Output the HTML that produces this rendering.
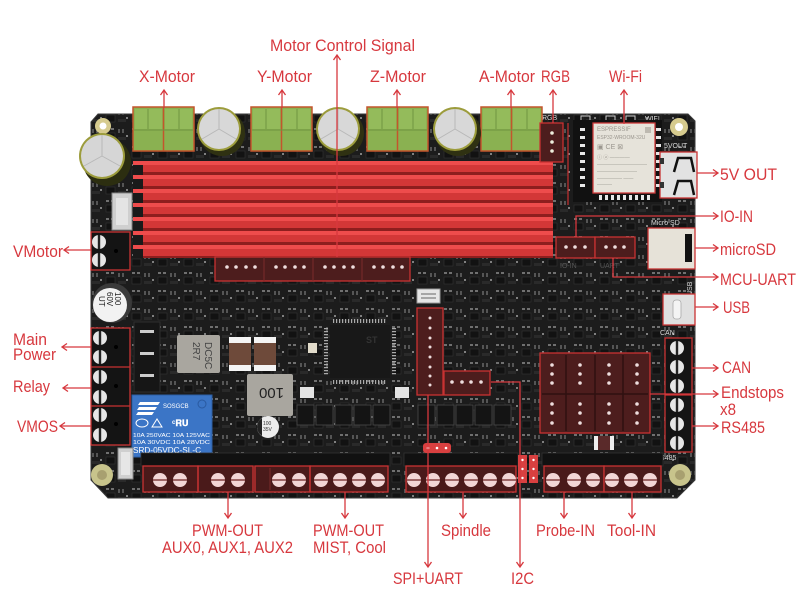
<!DOCTYPE html>
<html><head><meta charset="utf-8">
<style>
html,body{margin:0;padding:0;background:#fff;}
svg{display:block;}
text{font-family:"Liberation Sans",sans-serif;}
.lb{fill:#d7383e;font-size:17px;}
.ln{stroke:#d7383e;stroke-width:1.3;fill:none;}
.ss{fill:#d8d8d8;font-size:7px;}
</style></head><body>
<svg width="806" height="605" viewBox="0 0 806 605" xmlns="http://www.w3.org/2000/svg">
<defs>
<pattern id="smd" x="0" y="0" width="26" height="18" patternUnits="userSpaceOnUse">
<rect width="26" height="18" fill="#1c1c1c"/>
<rect x="2" y="2" width="3" height="2" fill="#707070"/>
<rect x="7" y="2" width="3" height="2" fill="#707070"/>
<rect x="2" y="7" width="9" height="7" fill="#121212" stroke="#333" stroke-width="0.6"/>
<rect x="14" y="3" width="2" height="4" fill="#555"/>
<rect x="18" y="3" width="2" height="4" fill="#555"/>
<rect x="14" y="11" width="8" height="3" fill="#2a2a2a"/>
<rect x="22" y="9" width="2" height="2" fill="#808080"/>
</pattern>
<g id="capT">
<circle cx="3" cy="4" r="23" fill="#2f3112"/>
<circle cx="0" cy="0" r="22" fill="#9c9c3c"/>
<circle cx="0" cy="0" r="20" fill="#d8d8d8"/>
<path d="M0 0 L0 -20 M0 0 L-17 10 M0 0 L17 10" stroke="#b8b8b8" stroke-width="1"/>
</g>
<g id="green">
<rect x="0" y="0" width="61" height="44" fill="#8ab151" stroke="#c4552c" stroke-width="1.5"/>
<rect x="2" y="2" width="27" height="20" fill="#94bb5b"/>
<rect x="32" y="2" width="27" height="20" fill="#94bb5b"/>
<line x1="30.5" y1="0" x2="30.5" y2="44" stroke="#c4552c" stroke-width="1.5"/>
<line x1="15" y1="2" x2="15" y2="22" stroke="#6f9440" stroke-width="1"/>
<line x1="46" y1="2" x2="46" y2="22" stroke="#6f9440" stroke-width="1"/>
<line x1="1" y1="23" x2="60" y2="23" stroke="#6f9440" stroke-width="1"/>
</g>
<g id="scrV">
<circle r="7" fill="#e6e6e6"/>
<rect x="-1.2" y="-7" width="2.4" height="14" fill="#222"/>
</g>
<g id="scrH">
<circle r="7" fill="#f2d6d6"/>
<rect x="-7" y="-0.8" width="14" height="1.6" fill="#8a4a4a"/>
</g>
</defs>
<rect width="806" height="605" fill="#fff"/>

<!-- board -->
<polygon points="91,122 98,114 688,114 695,121 695,480 677,498 108,498 91,480" fill="url(#smd)" stroke="#3a3a3a" stroke-width="1"/>

<!-- holes -->
<circle cx="103" cy="126" r="8" fill="#d6cb8e"/><circle cx="103" cy="126" r="3.5" fill="#fff"/>
<circle cx="679" cy="127" r="9" fill="#d6cb8e"/><circle cx="679" cy="127" r="4" fill="#fff"/>
<circle cx="102" cy="475" r="11" fill="#c8c48c"/><circle cx="102" cy="475" r="5" fill="#a8a070"/>
<circle cx="680" cy="475" r="11" fill="#c8c48c"/><circle cx="680" cy="475" r="5" fill="#a8a070"/>

<!-- top silkscreen -->
<text x="542" y="120" class="ss" font-size="7">RGB</text>
<text x="645" y="121" class="ss">WIFI</text>
<text x="664" y="148" class="ss" font-size="8">5VOUT</text>
<text x="651" y="225" class="ss" font-size="8">Micro SD</text>
<text x="660" y="335" class="ss" font-size="8">CAN</text>
<text x="655" y="460" class="ss" font-size="7">RS485</text>
<text x="0" y="0" class="ss" transform="translate(692,296) rotate(-90)">USB</text>
<rect x="581" y="116" width="9" height="6" fill="none" stroke="#ccc" stroke-width="1"/>
<rect x="606" y="116" width="9" height="6" fill="none" stroke="#ccc" stroke-width="1"/>
<rect x="626" y="116" width="9" height="6" fill="none" stroke="#ccc" stroke-width="1"/>

<!-- heatsink -->
<rect x="133" y="161" width="420" height="97" fill="#1a1a1a"/>
<g>
<rect x="133" y="161" width="420" height="4" fill="#ee4c4c"/><rect x="143" y="165" width="410" height="7" fill="#d33737"/><rect x="143" y="172" width="410" height="3" fill="#8e1e1e"/>
<rect x="133" y="175" width="420" height="4" fill="#ee4c4c"/><rect x="143" y="179" width="410" height="7" fill="#d33737"/><rect x="143" y="186" width="410" height="3" fill="#8e1e1e"/>
<rect x="133" y="189" width="420" height="4" fill="#ee4c4c"/><rect x="143" y="193" width="410" height="7" fill="#d33737"/><rect x="143" y="200" width="410" height="3" fill="#8e1e1e"/>
<rect x="133" y="203" width="420" height="4" fill="#ee4c4c"/><rect x="143" y="207" width="410" height="7" fill="#d33737"/><rect x="143" y="214" width="410" height="3" fill="#8e1e1e"/>
<rect x="133" y="217" width="420" height="4" fill="#ee4c4c"/><rect x="143" y="221" width="410" height="7" fill="#d33737"/><rect x="143" y="228" width="410" height="3" fill="#8e1e1e"/>
<rect x="133" y="231" width="420" height="4" fill="#ee4c4c"/><rect x="143" y="235" width="410" height="7" fill="#d33737"/><rect x="143" y="242" width="410" height="3" fill="#8e1e1e"/>
<rect x="133" y="245" width="420" height="4" fill="#ee4c4c"/><rect x="143" y="249" width="410" height="7" fill="#d33737"/><rect x="143" y="256" width="410" height="2" fill="#8e1e1e"/>
</g>

<!-- green motor blocks -->
<use href="#green" x="133" y="107"/>
<use href="#green" x="251" y="107"/>
<use href="#green" x="367" y="107"/>
<use href="#green" x="481" y="107"/>

<!-- caps -->
<use href="#capT" x="219" y="129"/>
<use href="#capT" x="338" y="129"/>
<use href="#capT" x="455" y="129"/>
<g transform="translate(102,156)">
<circle cx="5" cy="6" r="24" fill="#2c2e10"/>
<circle r="23" fill="#9c9c3c"/>
<circle r="21" fill="#d6d6d6"/>
<path d="M0 0 L0 -21 M0 0 L-18 10 M0 0 L18 10" stroke="#b8b8b8" stroke-width="1"/>
</g>

<!-- RGB connector -->
<rect x="540" y="123" width="23" height="39" fill="#4d1d1d" stroke="#c83232" stroke-width="1.3"/>
<circle cx="552" cy="133" r="1.8" fill="#eed"/><circle cx="552" cy="142" r="1.8" fill="#eed"/><circle cx="552" cy="151" r="1.8" fill="#eed"/>
<line x1="568" y1="123" x2="568" y2="205" stroke="#c83232" stroke-width="1.2"/>

<!-- wifi -->
<rect x="573" y="120" width="89" height="82" fill="#111"/>
<g fill="#e8e8e8">
<rect x="580" y="128" width="5" height="3"/><rect x="580" y="136" width="5" height="3"/><rect x="580" y="144" width="5" height="3"/><rect x="580" y="152" width="5" height="3"/><rect x="580" y="160" width="5" height="3"/><rect x="580" y="168" width="5" height="3"/><rect x="580" y="176" width="5" height="3"/><rect x="580" y="184" width="5" height="3"/>
<rect x="656" y="128" width="5" height="3"/><rect x="656" y="136" width="5" height="3"/><rect x="656" y="144" width="5" height="3"/><rect x="656" y="152" width="5" height="3"/><rect x="656" y="160" width="5" height="3"/><rect x="656" y="168" width="5" height="3"/><rect x="656" y="176" width="5" height="3"/><rect x="656" y="184" width="5" height="3"/>
<rect x="599" y="195" width="3" height="5"/><rect x="605" y="195" width="3" height="5"/><rect x="611" y="195" width="3" height="5"/><rect x="617" y="195" width="3" height="5"/><rect x="623" y="195" width="3" height="5"/><rect x="629" y="195" width="3" height="5"/><rect x="635" y="195" width="3" height="5"/><rect x="641" y="195" width="3" height="5"/><rect x="647" y="195" width="3" height="5"/>
</g>
<rect x="593" y="123" width="62" height="70" fill="#e6e3da" stroke="#d03a3a" stroke-width="1.3"/>
<rect x="645" y="127" width="6" height="6" fill="#bdb9b0"/>
<g fill="#9a968e" font-size="5">
<text x="597" y="131" font-size="6">ESPRESSIF</text>
<text x="597" y="139">ESP32-WROOM-32U</text>
<text x="597" y="149" font-size="7">▣ CE ⊠</text>
<text x="597" y="159">ⓘ ⓐ ————</text>
<text x="597" y="166">——————————</text>
<text x="597" y="173">————————</text>
<text x="597" y="180">—————  ——</text>
<text x="597" y="186">———</text>
</g>

<!-- 5V out USB-A -->
<rect x="660" y="152" width="37" height="46" fill="#e2e2e2" stroke="#c83232" stroke-width="1.3"/>
<path d="M674 172 L678 158 L691 158 L694 172" stroke="#111" stroke-width="2.5" fill="none"/>
<path d="M674 195 L678 181 L691 181 L694 195" stroke="#111" stroke-width="2.5" fill="none"/>
<rect x="660" y="158" width="4" height="6" fill="#333"/><rect x="660" y="182" width="4" height="6" fill="#333"/>

<!-- microSD -->
<rect x="648" y="228" width="47" height="41" fill="#e6e2d8" stroke="#c83232" stroke-width="1.3"/>
<rect x="685" y="234" width="7" height="28" fill="#111"/>

<!-- USB-C -->
<rect x="663" y="294" width="32" height="31" fill="#e0e0e0" stroke="#c83232" stroke-width="1.3"/>
<rect x="673" y="300" width="8" height="19" rx="3" fill="#f4f4f4" stroke="#aaa" stroke-width="0.8"/>

<!-- IO-IN / UART connectors -->
<rect x="556" y="237" width="39" height="21" fill="#4d1d1d" stroke="#c83232" stroke-width="1.3"/>
<rect x="595" y="237" width="40" height="21" fill="#4d1d1d" stroke="#c83232" stroke-width="1.3"/>
<g fill="#eedede"><circle cx="566" cy="247" r="1.8"/><circle cx="575" cy="247" r="1.8"/><circle cx="585" cy="247" r="1.8"/><circle cx="606" cy="247" r="1.8"/><circle cx="615" cy="247" r="1.8"/><circle cx="624" cy="247" r="1.8"/></g>
<text x="560" y="268" font-size="7" fill="#555">IO-IN</text>
<text x="600" y="268" font-size="7" fill="#555">UART</text>

<!-- 4-pin driver connectors -->
<rect x="215" y="257" width="195" height="24" fill="#4d1d1d" stroke="#c83232" stroke-width="1.3"/>
<line x1="264" y1="257" x2="264" y2="281" stroke="#7a2a2a"/><line x1="313" y1="257" x2="313" y2="281" stroke="#7a2a2a"/><line x1="362" y1="257" x2="362" y2="281" stroke="#7a2a2a"/>
<g fill="#eedede">
<circle cx="227" cy="267" r="1.8"/><circle cx="236" cy="267" r="1.8"/><circle cx="246" cy="267" r="1.8"/><circle cx="255" cy="267" r="1.8"/>
<circle cx="276" cy="267" r="1.8"/><circle cx="285" cy="267" r="1.8"/><circle cx="295" cy="267" r="1.8"/><circle cx="304" cy="267" r="1.8"/>
<circle cx="325" cy="267" r="1.8"/><circle cx="334" cy="267" r="1.8"/><circle cx="344" cy="267" r="1.8"/><circle cx="353" cy="267" r="1.8"/>
<circle cx="374" cy="267" r="1.8"/><circle cx="383" cy="267" r="1.8"/><circle cx="393" cy="267" r="1.8"/><circle cx="402" cy="267" r="1.8"/>
</g>

<!-- left white JST -->
<rect x="112" y="193" width="20" height="37" fill="#cfcfcf" stroke="#888" stroke-width="1"/>
<rect x="116" y="198" width="12" height="27" fill="#e4e4e4"/>

<!-- VMotor terminal -->
<rect x="91" y="232" width="39" height="38" fill="#141414" stroke="#c83232" stroke-width="1.3"/>
<use href="#scrV" x="99" y="242"/><use href="#scrV" x="99" y="260"/>
<circle cx="116" cy="251" r="2" fill="#000"/>

<!-- 100 60V cap -->
<circle cx="112" cy="303" r="20" fill="#3a3a3a"/>
<circle cx="110" cy="305" r="17" fill="#f2f2f2"/>
<text x="0" y="0" font-size="8" fill="#222" transform="translate(115,292) rotate(90)">100</text>
<text x="0" y="0" font-size="8" fill="#222" transform="translate(107,292) rotate(90)">60V</text>
<text x="0" y="0" font-size="8" fill="#222" transform="translate(99,296) rotate(90)">UT</text>

<!-- left column components -->
<rect x="134" y="322" width="26" height="70" fill="#161616" stroke="#2e2e2e"/>
<rect x="140" y="330" width="14" height="3" fill="#ccc"/><rect x="140" y="352" width="14" height="3" fill="#ccc"/><rect x="140" y="374" width="14" height="3" fill="#ccc"/>

<!-- Main power / relay / vmos terminals -->
<rect x="91" y="328" width="39" height="117" fill="#141414" stroke="#c83232" stroke-width="1.3"/>
<line x1="91" y1="367" x2="130" y2="367" stroke="#c83232" stroke-width="1.3"/>
<line x1="91" y1="406" x2="130" y2="406" stroke="#c83232" stroke-width="1.3"/>
<use href="#scrV" x="100" y="338"/><use href="#scrV" x="100" y="357"/>
<use href="#scrV" x="100" y="377"/><use href="#scrV" x="100" y="397"/>
<use href="#scrV" x="100" y="415"/><use href="#scrV" x="100" y="435"/>
<circle cx="116" cy="347" r="2" fill="#000"/><circle cx="116" cy="386" r="2" fill="#000"/><circle cx="116" cy="424" r="2" fill="#000"/>

<!-- relay -->
<rect x="132" y="395" width="80" height="62" fill="#3b75c6" stroke="#2d5ea4" stroke-width="1"/>
<g fill="#fff">
<path d="M140 402 L160 402 L158 405 L138 405 Z"/><path d="M139 407 L157 407 L155 410 L137 410 Z"/><path d="M138 412 L154 412 L152 415 L136 415 Z"/>
<text x="163" y="408" font-size="6">SOSGCB</text>
<text x="172" y="426" font-size="9" font-weight="bold">ᶜ𝐑𝐔</text>
<text x="133" y="437" font-size="5.5" textLength="77" lengthAdjust="spacingAndGlyphs">10A 250VAC 10A 125VAC</text>
<text x="133" y="444" font-size="5.5" textLength="77" lengthAdjust="spacingAndGlyphs">10A 30VDC 10A 28VDC</text>
<text x="133" y="453" font-size="8" textLength="68" lengthAdjust="spacingAndGlyphs">SRD-05VDC-SL-C</text>
</g>
<ellipse cx="142" cy="423" rx="6" ry="4" fill="none" stroke="#fff" stroke-width="1"/>
<path d="M152 427 L157 419 L162 427 Z" fill="none" stroke="#fff" stroke-width="1"/>
<circle cx="202" cy="404" r="4" fill="none" stroke="#2a5aa0" stroke-width="1"/>

<!-- white JST bottom-left -->
<rect x="118" y="448" width="15" height="31" fill="#cfcfcf" stroke="#888"/>
<rect x="121" y="452" width="9" height="23" fill="#e6e6e6"/>

<!-- inductors & caps -->
<rect x="177" y="335" width="43" height="38" fill="#a9a69f" rx="2"/>
<text x="0" y="0" font-size="10" fill="#444" transform="translate(193,342) rotate(90)">2R7</text>
<text x="0" y="0" font-size="10" fill="#444" transform="translate(205,342) rotate(90)">DC5C</text>
<rect x="229" y="337" width="22" height="34" fill="#6e4a3a"/><rect x="229" y="337" width="22" height="6" fill="#f4f4f4"/><rect x="229" y="365" width="22" height="6" fill="#f4f4f4"/>
<rect x="254" y="337" width="22" height="34" fill="#6e4a3a"/><rect x="254" y="337" width="22" height="6" fill="#f4f4f4"/><rect x="254" y="365" width="22" height="6" fill="#f4f4f4"/>
<rect x="247" y="374" width="46" height="42" fill="#a9a69f" rx="2"/>
<text x="0" y="0" font-size="15" fill="#222" transform="translate(284,388) rotate(180)">100</text>
<circle cx="268" cy="427" r="11" fill="#ececec"/>
<path d="M257 427 A11 11 0 0 1 262 418 L262 436 A11 11 0 0 1 257 427" fill="#222"/>
<text x="263" y="425" font-size="5" fill="#333">100</text><text x="263" y="431" font-size="5" fill="#333">35V</text>
<rect x="308" y="343" width="9" height="10" fill="#e2dccb"/>

<!-- MCU -->
<rect x="330" y="325" width="60" height="53" fill="#181818"/>
<line x1="333" y1="321" x2="387" y2="321" stroke="#aaa" stroke-width="4" stroke-dasharray="1.2 1.8"/>
<line x1="333" y1="382" x2="387" y2="382" stroke="#aaa" stroke-width="4" stroke-dasharray="1.2 1.8"/>
<line x1="326" y1="328" x2="326" y2="375" stroke="#aaa" stroke-width="4" stroke-dasharray="1.2 1.8"/>
<line x1="394" y1="328" x2="394" y2="375" stroke="#aaa" stroke-width="4" stroke-dasharray="1.2 1.8"/>
<text x="366" y="343" font-size="9" fill="#333" font-weight="bold">ST</text>
<rect x="300" y="387" width="14" height="11" fill="#e4e4e4"/><rect x="395" y="387" width="14" height="11" fill="#e4e4e4"/>

<!-- MOSFET row -->
<g fill="#141414" stroke="#4a4a4a" stroke-width="0.8">
<rect x="297" y="405" width="17" height="20"/><rect x="316" y="405" width="17" height="20"/><rect x="335" y="405" width="17" height="20"/><rect x="354" y="405" width="17" height="20"/><rect x="373" y="405" width="17" height="20"/>
<rect x="418" y="405" width="17" height="20"/><rect x="437" y="405" width="17" height="20"/><rect x="456" y="405" width="17" height="20"/><rect x="475" y="405" width="17" height="20"/><rect x="494" y="405" width="17" height="20"/>
</g>

<!-- SPI+UART connector -->
<rect x="417" y="289" width="23" height="14" fill="#e6e6e6" stroke="#999"/>
<line x1="421" y1="294" x2="436" y2="294" stroke="#666"/><line x1="421" y1="298" x2="436" y2="298" stroke="#666"/>
<rect x="417" y="308" width="26" height="87" fill="#4d1d1d" stroke="#c83232" stroke-width="1.3"/>
<g fill="#eedede"><circle cx="430" cy="318" r="1.5"/><circle cx="430" cy="328" r="1.5"/><circle cx="430" cy="338" r="1.5"/><circle cx="430" cy="347" r="1.5"/><circle cx="430" cy="357" r="1.5"/><circle cx="430" cy="367" r="1.5"/><circle cx="430" cy="376" r="1.5"/><circle cx="430" cy="385" r="1.5"/></g>
<rect x="444" y="371" width="46" height="24" fill="#4d1d1d" stroke="#c83232" stroke-width="1.3"/>
<g fill="#eedede"><circle cx="452" cy="382" r="1.8"/><circle cx="462" cy="382" r="1.8"/><circle cx="471" cy="382" r="1.8"/><circle cx="481" cy="382" r="1.8"/></g>

<!-- Endstops -->
<rect x="540" y="353" width="110" height="80" fill="#4d1d1d" stroke="#c83232" stroke-width="1.3"/>
<g stroke="#2e1010" stroke-width="1.5"><line x1="566" y1="355" x2="566" y2="431"/><line x1="595" y1="355" x2="595" y2="431"/><line x1="623" y1="355" x2="623" y2="431"/><line x1="542" y1="394" x2="648" y2="394"/></g>
<g fill="#eedede">
<circle cx="552" cy="365" r="1.8"/><circle cx="552" cy="374" r="1.8"/><circle cx="552" cy="383" r="1.8"/>
<circle cx="580" cy="365" r="1.8"/><circle cx="580" cy="374" r="1.8"/><circle cx="580" cy="383" r="1.8"/>
<circle cx="609" cy="365" r="1.8"/><circle cx="609" cy="374" r="1.8"/><circle cx="609" cy="383" r="1.8"/>
<circle cx="637" cy="365" r="1.8"/><circle cx="637" cy="374" r="1.8"/><circle cx="637" cy="383" r="1.8"/>
<circle cx="552" cy="404" r="1.8"/><circle cx="552" cy="413" r="1.8"/><circle cx="552" cy="423" r="1.8"/>
<circle cx="580" cy="404" r="1.8"/><circle cx="580" cy="413" r="1.8"/><circle cx="580" cy="423" r="1.8"/>
<circle cx="609" cy="404" r="1.8"/><circle cx="609" cy="413" r="1.8"/><circle cx="609" cy="423" r="1.8"/>
<circle cx="637" cy="404" r="1.8"/><circle cx="637" cy="413" r="1.8"/><circle cx="637" cy="423" r="1.8"/>
</g>
<rect x="594" y="436" width="4" height="14" fill="#eee"/><rect x="610" y="436" width="4" height="14" fill="#eee"/><rect x="598" y="436" width="12" height="14" fill="#5a2a2a"/>

<!-- CAN / RS485 -->
<rect x="665" y="338" width="27" height="114" fill="#141414" stroke="#c83232" stroke-width="1.3"/>
<line x1="665" y1="395" x2="692" y2="395" stroke="#c83232" stroke-width="1.3"/>
<use href="#scrV" x="677" y="348"/><use href="#scrV" x="677" y="367"/><use href="#scrV" x="677" y="386"/>
<use href="#scrV" x="677" y="405"/><use href="#scrV" x="677" y="424"/><use href="#scrV" x="677" y="443"/>

<!-- bottom housings -->
<rect x="141" y="453" width="249" height="13" fill="#111" stroke="#333" stroke-width="0.8"/>
<rect x="404" y="453" width="114" height="13" fill="#111" stroke="#333" stroke-width="0.8"/>
<rect x="542" y="453" width="121" height="13" fill="#111" stroke="#333" stroke-width="0.8"/>

<!-- bottom terminals -->
<rect x="143" y="466" width="245" height="26" fill="#4a1a1a"/>
<g fill="none" stroke="#c83232" stroke-width="1.3">
<rect x="143" y="466" width="55" height="26"/><rect x="198" y="466" width="55" height="26"/><rect x="255" y="466" width="55" height="26"/><rect x="310" y="466" width="78" height="26"/>
</g>
<line x1="270" y1="468" x2="270" y2="490" stroke="#7a2a2a"/>
<use href="#scrH" x="160" y="480"/><use href="#scrH" x="180" y="480"/>
<use href="#scrH" x="218" y="480"/><use href="#scrH" x="238" y="480"/>
<use href="#scrH" x="279" y="480"/><use href="#scrH" x="299" y="480"/>
<use href="#scrH" x="321" y="480"/><use href="#scrH" x="340" y="480"/><use href="#scrH" x="359" y="480"/><use href="#scrH" x="378" y="480"/>

<rect x="406" y="466" width="110" height="26" fill="#4a1a1a" stroke="#c83232" stroke-width="1.3"/>
<use href="#scrH" x="414" y="480"/><use href="#scrH" x="433" y="480"/><use href="#scrH" x="452" y="480"/><use href="#scrH" x="471" y="480"/><use href="#scrH" x="490" y="480"/><use href="#scrH" x="509" y="480"/>

<rect x="544" y="466" width="60" height="26" fill="#4a1a1a" stroke="#c83232" stroke-width="1.3"/>
<rect x="604" y="466" width="57" height="26" fill="#4a1a1a" stroke="#c83232" stroke-width="1.3"/>
<use href="#scrH" x="553" y="480"/><use href="#scrH" x="574" y="480"/><use href="#scrH" x="593" y="480"/>
<use href="#scrH" x="612" y="480"/><use href="#scrH" x="631" y="480"/><use href="#scrH" x="650" y="480"/>

<!-- red jumpers -->
<rect x="423" y="443" width="28" height="10" rx="3" fill="#d84040"/>
<circle cx="428" cy="448" r="1.3" fill="#fff"/><circle cx="437" cy="448" r="1.3" fill="#fff"/><circle cx="446" cy="448" r="1.3" fill="#fff"/>
<rect x="518" y="455" width="9" height="28" fill="#d84040"/><rect x="529" y="455" width="9" height="28" fill="#d84040"/>
<g fill="#fff"><circle cx="522.5" cy="460" r="1.2"/><circle cx="522.5" cy="469" r="1.2"/><circle cx="522.5" cy="478" r="1.2"/><circle cx="533.5" cy="460" r="1.2"/><circle cx="533.5" cy="469" r="1.2"/><circle cx="533.5" cy="478" r="1.2"/></g>

<!-- ===== connector lines & arrows ===== -->
<g class="ln">
<path d="M164 90 V108 M160.5 95 L164 90 L167.5 95"/>
<path d="M282 90 V108 M278.5 95 L282 90 L285.5 95"/>
<path d="M397 90 V108 M393.5 95 L397 90 L400.5 95"/>
<path d="M511 90 V108 M507.5 95 L511 90 L514.5 95"/>
<path d="M553 90 V123 M549.5 95 L553 90 L556.5 95"/>
<path d="M624 90 V124 M620.5 95 L624 90 L627.5 95"/>
<path d="M337 55 V257 M333.5 60 L337 55 L340.5 60"/>
<path d="M697 173 H718 M713 169.5 L718 173 L713 176.5"/>
<path d="M576 237 V216 H718 M713 212.5 L718 216 L713 219.5"/>
<path d="M695 248 H718 M713 244.5 L718 248 L713 251.5"/>
<path d="M613 258 V277 H718 M713 273.5 L718 277 L713 280.5"/>
<path d="M695 307 H718 M713 303.5 L718 307 L713 310.5"/>
<path d="M692 368 H718 M713 364.5 L718 368 L713 371.5"/>
<path d="M650 394 H718 M713 390.5 L718 394 L713 397.5"/>
<path d="M692 426 H718 M713 422.5 L718 426 L713 429.5"/>
<path d="M228 492 V518 M224.5 513 L228 518 L231.5 513"/>
<path d="M345 492 V518 M341.5 513 L345 518 L348.5 513"/>
<path d="M463 492 V518 M459.5 513 L463 518 L466.5 513"/>
<path d="M564 492 V518 M560.5 513 L564 518 L567.5 513"/>
<path d="M632 492 V518 M628.5 513 L632 518 L635.5 513"/>
<path d="M428 395 V567 M424.5 562 L428 567 L431.5 562"/>
<path d="M491 382 H520 V567 M516.5 562 L520 567 L523.5 562"/>
<path d="M91 250 H64 M69 246.5 L64 250 L69 253.5"/>
<path d="M91 347 H62 M67 343.5 L62 347 L67 350.5"/>
<path d="M91 388 H63 M68 384.5 L63 388 L68 391.5"/>
<path d="M91 426 H60 M65 422.5 L60 426 L65 429.5"/>
</g>

<!-- ===== labels ===== -->
<g class="lb">
<text x="270" y="51" textLength="145" lengthAdjust="spacingAndGlyphs">Motor Control Signal</text>
<text x="139" y="82" textLength="56" lengthAdjust="spacingAndGlyphs">X-Motor</text>
<text x="257" y="82" textLength="55" lengthAdjust="spacingAndGlyphs">Y-Motor</text>
<text x="370" y="82" textLength="56" lengthAdjust="spacingAndGlyphs">Z-Motor</text>
<text x="479" y="82" textLength="56" lengthAdjust="spacingAndGlyphs">A-Motor</text>
<text x="541" y="82" textLength="29" lengthAdjust="spacingAndGlyphs">RGB</text>
<text x="609" y="82" textLength="33" lengthAdjust="spacingAndGlyphs">Wi-Fi</text>
<text x="720" y="180" textLength="57" lengthAdjust="spacingAndGlyphs">5V OUT</text>
<text x="720" y="222" textLength="33" lengthAdjust="spacingAndGlyphs">IO-IN</text>
<text x="720" y="255" textLength="56" lengthAdjust="spacingAndGlyphs">microSD</text>
<text x="720" y="285" textLength="76" lengthAdjust="spacingAndGlyphs">MCU-UART</text>
<text x="723" y="313" textLength="27" lengthAdjust="spacingAndGlyphs">USB</text>
<text x="722" y="373" textLength="29" lengthAdjust="spacingAndGlyphs">CAN</text>
<text x="721" y="398" textLength="63" lengthAdjust="spacingAndGlyphs">Endstops</text>
<text x="720" y="415" textLength="16" lengthAdjust="spacingAndGlyphs">x8</text>
<text x="721" y="433" textLength="44" lengthAdjust="spacingAndGlyphs">RS485</text>
<text x="192" y="536" textLength="71" lengthAdjust="spacingAndGlyphs">PWM-OUT</text>
<text x="162" y="553" textLength="131" lengthAdjust="spacingAndGlyphs">AUX0, AUX1, AUX2</text>
<text x="313" y="536" textLength="71" lengthAdjust="spacingAndGlyphs">PWM-OUT</text>
<text x="313" y="553" textLength="73" lengthAdjust="spacingAndGlyphs">MIST, Cool</text>
<text x="441" y="536" textLength="50" lengthAdjust="spacingAndGlyphs">Spindle</text>
<text x="536" y="536" textLength="59" lengthAdjust="spacingAndGlyphs">Probe-IN</text>
<text x="607" y="536" textLength="49" lengthAdjust="spacingAndGlyphs">Tool-IN</text>
<text x="393" y="584" textLength="70" lengthAdjust="spacingAndGlyphs">SPI+UART</text>
<text x="511" y="584" textLength="23" lengthAdjust="spacingAndGlyphs">I2C</text>
<text x="13" y="345" textLength="34" lengthAdjust="spacingAndGlyphs">Main</text>
<text x="13" y="360" textLength="43" lengthAdjust="spacingAndGlyphs">Power</text>
<text x="13" y="392" textLength="37" lengthAdjust="spacingAndGlyphs">Relay</text>
<text x="17" y="432" textLength="41" lengthAdjust="spacingAndGlyphs">VMOS</text>
<text x="13" y="257" textLength="50" lengthAdjust="spacingAndGlyphs">VMotor</text>
</g>
</svg>
</body></html>
